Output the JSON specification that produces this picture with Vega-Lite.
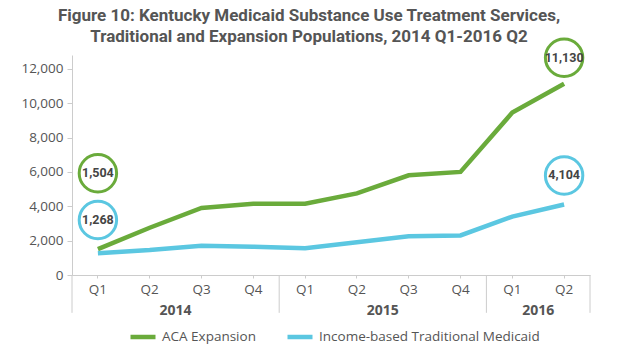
{
  "$schema": "https://vega.github.io/schema/vega-lite/v6.json",
  "width": 518,
  "height": 220,
  "autosize": {"type": "none"},
  "padding": {"left": 72, "top": 55, "right": 32, "bottom": 77},
  "background": "white",
  "config": {
    "view": {"stroke": null},
    "font": "Open Sans",
    "axisX": {"title": null, "labelAngle": 0, "labelExpr": "split(datum.label, ' ')[1]", "domainColor": "#cccccc", "tickColor": "#cccccc", "tickSize": 3, "labelColor": "#555555", "labelFontSize": 13.5, "labelPadding": 4, "labelFont": "Open Sans", "grid": false},
    "axisY": {"title": null, "labelExpr": "format(datum.value, ',.0f')", "domainColor": "#cccccc", "tickColor": "#cccccc", "tickSize": 5, "labelColor": "#555555", "labelFontSize": 13.5, "labelPadding": 4, "labelFont": "Open Sans", "grid": false}
  },
  "title": {
    "text": ["Figure 10: Kentucky Medicaid Substance Use Treatment Services,", "Traditional and Expansion Populations, 2014 Q1-2016 Q2"],
    "font": "Roboto",
    "fontWeight": "bold",
    "fontSize": 17,
    "lineHeight": 21,
    "color": "#555555",
    "anchor": "middle",
    "dx": -22,
    "dy": 21,
    "offset": 8
  },
  "layer": [
    {
      "data": {"values": [
        {"period": "2014 Q1", "series": "ACA Expansion", "value": 1504},
        {"period": "2014 Q2", "series": "ACA Expansion", "value": 2750},
        {"period": "2014 Q3", "series": "ACA Expansion", "value": 3900},
        {"period": "2014 Q4", "series": "ACA Expansion", "value": 4150},
        {"period": "2015 Q1", "series": "ACA Expansion", "value": 4150},
        {"period": "2015 Q2", "series": "ACA Expansion", "value": 4750},
        {"period": "2015 Q3", "series": "ACA Expansion", "value": 5800},
        {"period": "2015 Q4", "series": "ACA Expansion", "value": 6000},
        {"period": "2016 Q1", "series": "ACA Expansion", "value": 9450},
        {"period": "2016 Q2", "series": "ACA Expansion", "value": 11130},
        {"period": "2014 Q1", "series": "Income-based Traditional Medicaid", "value": 1268},
        {"period": "2014 Q2", "series": "Income-based Traditional Medicaid", "value": 1450},
        {"period": "2014 Q3", "series": "Income-based Traditional Medicaid", "value": 1700},
        {"period": "2014 Q4", "series": "Income-based Traditional Medicaid", "value": 1650},
        {"period": "2015 Q1", "series": "Income-based Traditional Medicaid", "value": 1550},
        {"period": "2015 Q2", "series": "Income-based Traditional Medicaid", "value": 1900},
        {"period": "2015 Q3", "series": "Income-based Traditional Medicaid", "value": 2250},
        {"period": "2015 Q4", "series": "Income-based Traditional Medicaid", "value": 2300},
        {"period": "2016 Q1", "series": "Income-based Traditional Medicaid", "value": 3400},
        {"period": "2016 Q2", "series": "Income-based Traditional Medicaid", "value": 4104}
      ]},
      "mark": {"type": "line", "strokeWidth": 4.5, "strokeJoin": "miter"},
      "encoding": {
        "x": {
          "field": "period", "type": "ordinal",
          "scale": {"type": "band", "paddingInner": 0, "paddingOuter": 0}
        },
        "y": {
          "field": "value", "type": "quantitative",
          "scale": {"domain": [0, 12800], "nice": false},
          "axis": {"values": [0, 2000, 4000, 6000, 8000, 10000, 12000]}
        },
        "color": {
          "field": "series", "type": "nominal",
          "scale": {"domain": ["ACA Expansion", "Income-based Traditional Medicaid"], "range": ["#6aab3b", "#5bc7e1"]},
          "legend": {
            "title": null, "orient": "none", "legendX": 56, "legendY": 267,
            "direction": "horizontal", "symbolType": "stroke", "symbolSize": 625,
            "symbolStrokeWidth": 4.5, "labelFontSize": 13.5, "labelColor": "#555555",
            "labelFont": "Open Sans", "columnPadding": 22, "labelOffset": 4, "labelLimit": 0
          }
        }
      }
    },
    {
      "data": {"values": [{"at": "2014 Q1"}]},
      "mark": {"type": "rule", "color": "#cccccc", "strokeWidth": 1},
      "encoding": {
        "x": {"field": "at", "type": "ordinal", "bandPosition": 0},
        "y": {"datum": 0, "type": "quantitative", "axis": {"values": [0, 2000, 4000, 6000, 8000, 10000, 12000]}},
        "y2": {"datum": -2200}
      }
    },
    {
      "data": {"values": [{"at": "2014 Q4"}, {"at": "2015 Q4"}, {"at": "2016 Q2"}]},
      "mark": {"type": "rule", "color": "#cccccc", "strokeWidth": 1},
      "encoding": {
        "x": {"field": "at", "type": "ordinal", "bandPosition": 1},
        "y": {"datum": 0, "type": "quantitative", "axis": {"values": [0, 2000, 4000, 6000, 8000, 10000, 12000]}},
        "y2": {"datum": -2200}
      }
    },
    {
      "data": {"values": [
        {"year": "2014", "at": "2014 Q2"},
        {"year": "2015", "at": "2015 Q2"},
        {"year": "2016", "at": "2016 Q1"}
      ]},
      "mark": {"type": "text", "fontWeight": "bold", "fontSize": 14, "color": "#555555", "font": "Open Sans", "baseline": "middle"},
      "encoding": {
        "x": {"field": "at", "type": "ordinal", "bandPosition": 1},
        "y": {"datum": -2100, "type": "quantitative", "axis": {"values": [0, 2000, 4000, 6000, 8000, 10000, 12000]}},
        "text": {"field": "year"}
      }
    },
    {
      "data": {"values": [{"period": "2014 Q1", "series": "ACA Expansion", "label": "1,504"}]},
      "encoding": {"x": {"field": "period", "type": "ordinal"}, "y": {"datum": 5920, "type": "quantitative", "axis": {"values": [0, 2000, 4000, 6000, 8000, 10000, 12000]}}},
      "layer": [
        {"mark": {"type": "point", "filled": false, "size": 1400, "strokeWidth": 3, "opacity": 1}, "encoding": {"color": {"field": "series", "type": "nominal"}}},
        {"mark": {"type": "text", "fontWeight": "bold", "fontSize": 12.5, "color": "#444444", "font": "Roboto"}, "encoding": {"text": {"field": "label"}}}
      ]
    },
    {
      "data": {"values": [{"period": "2014 Q1", "series": "Income-based Traditional Medicaid", "label": "1,268"}]},
      "encoding": {"x": {"field": "period", "type": "ordinal"}, "y": {"datum": 3200, "type": "quantitative", "axis": {"values": [0, 2000, 4000, 6000, 8000, 10000, 12000]}}},
      "layer": [
        {"mark": {"type": "point", "filled": false, "size": 1400, "strokeWidth": 3, "opacity": 1}, "encoding": {"color": {"field": "series", "type": "nominal"}}},
        {"mark": {"type": "text", "fontWeight": "bold", "fontSize": 12.5, "color": "#444444", "font": "Roboto"}, "encoding": {"text": {"field": "label"}}}
      ]
    },
    {
      "data": {"values": [{"period": "2016 Q2", "series": "ACA Expansion", "label": "11,130"}]},
      "encoding": {"x": {"field": "period", "type": "ordinal"}, "y": {"datum": 12640, "type": "quantitative", "axis": {"values": [0, 2000, 4000, 6000, 8000, 10000, 12000]}}},
      "layer": [
        {"mark": {"type": "point", "filled": false, "size": 1400, "strokeWidth": 3, "opacity": 1}, "encoding": {"color": {"field": "series", "type": "nominal"}}},
        {"mark": {"type": "text", "fontWeight": "bold", "fontSize": 12.5, "color": "#444444", "font": "Roboto"}, "encoding": {"text": {"field": "label"}}}
      ]
    },
    {
      "data": {"values": [{"period": "2016 Q2", "series": "Income-based Traditional Medicaid", "label": "4,104"}]},
      "encoding": {"x": {"field": "period", "type": "ordinal"}, "y": {"datum": 5790, "type": "quantitative", "axis": {"values": [0, 2000, 4000, 6000, 8000, 10000, 12000]}}},
      "layer": [
        {"mark": {"type": "point", "filled": false, "size": 1400, "strokeWidth": 3, "opacity": 1}, "encoding": {"color": {"field": "series", "type": "nominal"}}},
        {"mark": {"type": "text", "fontWeight": "bold", "fontSize": 12.5, "color": "#444444", "font": "Roboto"}, "encoding": {"text": {"field": "label"}}}
      ]
    }
  ]
}
